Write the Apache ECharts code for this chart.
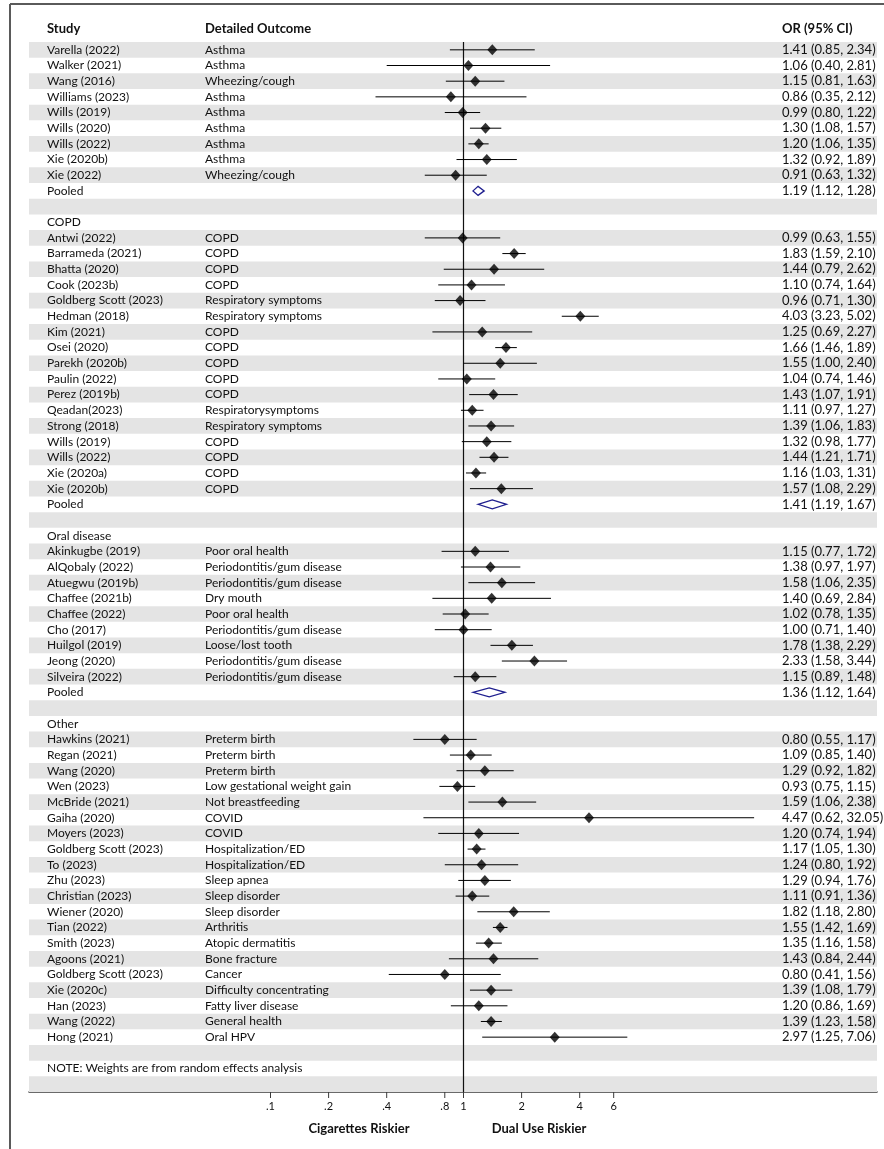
<!DOCTYPE html>
<html>
<head>
<meta charset="utf-8">
<script src="https://cdn.jsdelivr.net/npm/echarts@6/dist/echarts.min.js"></script>
<style>
  html, body { margin: 0; padding: 0; background: #ffffff; }
  #chart { width: 884px; height: 1149px; }
</style>
</head>
<body>
<div id="chart"></div>
<script>
// ---- Asthma ----
const asthmaStudy = ['Varella (2022)', 'Walker (2021)', 'Wang (2016)', 'Williams (2023)', 'Wills (2019)',
  'Wills (2020)', 'Wills (2022)', 'Xie (2020b)', 'Xie (2022)'];
const asthmaOutcome = ['Asthma', 'Asthma', 'Wheezing/cough', 'Asthma', 'Asthma', 'Asthma', 'Asthma', 'Asthma', 'Wheezing/cough'];
const asthmaOR = [1.41, 1.06, 1.15, 0.86, 0.99, 1.30, 1.20, 1.32, 0.91];
const asthmaLow = [0.85, 0.40, 0.81, 0.35, 0.80, 1.08, 1.06, 0.92, 0.63];
const asthmaHigh = [2.34, 2.81, 1.63, 2.12, 1.22, 1.57, 1.35, 1.89, 1.32];
const asthmaPooled = [1.19, 1.12, 1.28];

// ---- COPD ----
const copdStudy = ['Antwi (2022)', 'Barrameda (2021)', 'Bhatta (2020)', 'Cook (2023b)', 'Goldberg Scott (2023)',
  'Hedman (2018)', 'Kim (2021)', 'Osei (2020)', 'Parekh (2020b)', 'Paulin (2022)', 'Perez (2019b)',
  'Qeadan(2023)', 'Strong (2018)', 'Wills (2019)', 'Wills (2022)', 'Xie (2020a)', 'Xie (2020b)'];
const copdOutcome = ['COPD', 'COPD', 'COPD', 'COPD', 'Respiratory symptoms', 'Respiratory symptoms', 'COPD', 'COPD',
  'COPD', 'COPD', 'COPD', 'Respiratorysymptoms', 'Respiratory symptoms', 'COPD', 'COPD', 'COPD', 'COPD'];
const copdOR = [0.99, 1.83, 1.44, 1.10, 0.96, 4.03, 1.25, 1.66, 1.55, 1.04, 1.43, 1.11, 1.39, 1.32, 1.44, 1.16, 1.57];
const copdLow = [0.63, 1.59, 0.79, 0.74, 0.71, 3.23, 0.69, 1.46, 1.00, 0.74, 1.07, 0.97, 1.06, 0.98, 1.21, 1.03, 1.08];
const copdHigh = [1.55, 2.10, 2.62, 1.64, 1.30, 5.02, 2.27, 1.89, 2.40, 1.46, 1.91, 1.27, 1.83, 1.77, 1.71, 1.31, 2.29];
const copdPooled = [1.41, 1.19, 1.67];

// ---- Oral disease ----
const oralStudy = ['Akinkugbe (2019)', 'AlQobaly (2022)', 'Atuegwu (2019b)', 'Chaffee (2021b)', 'Chaffee (2022)',
  'Cho (2017)', 'Huilgol (2019)', 'Jeong (2020)', 'Silveira (2022)'];
const oralOutcome = ['Poor oral health', 'Periodontitis/gum disease', 'Periodontitis/gum disease', 'Dry mouth',
  'Poor oral health', 'Periodontitis/gum disease', 'Loose/lost tooth', 'Periodontitis/gum disease', 'Periodontitis/gum disease'];
const oralOR = [1.15, 1.38, 1.58, 1.40, 1.02, 1.00, 1.78, 2.33, 1.15];
const oralLow = [0.77, 0.97, 1.06, 0.69, 0.78, 0.71, 1.38, 1.58, 0.89];
const oralHigh = [1.72, 1.97, 2.35, 2.84, 1.35, 1.40, 2.29, 3.44, 1.48];
const oralPooled = [1.36, 1.12, 1.64];

// ---- Other outcomes ----
const otherStudy = ['Hawkins (2021)', 'Regan (2021)', 'Wang (2020)', 'Wen (2023)', 'McBride (2021)', 'Gaiha (2020)',
  'Moyers (2023)', 'Goldberg Scott (2023)', 'To (2023)', 'Zhu (2023)', 'Christian (2023)', 'Wiener (2020)',
  'Tian (2022)', 'Smith (2023)', 'Agoons (2021)', 'Goldberg Scott (2023)', 'Xie (2020c)', 'Han (2023)',
  'Wang (2022)', 'Hong (2021)'];
const otherOutcome = ['Preterm birth', 'Preterm birth', 'Preterm birth', 'Low gestational weight gain',
  'Not breastfeeding', 'COVID', 'COVID', 'Hospitalization/ED', 'Hospitalization/ED', 'Sleep apnea',
  'Sleep disorder', 'Sleep disorder', 'Arthritis', 'Atopic dermatitis', 'Bone fracture', 'Cancer',
  'Difficulty concentrating', 'Fatty liver disease', 'General health', 'Oral HPV'];
const otherOR = [0.80, 1.09, 1.29, 0.93, 1.59, 4.47, 1.20, 1.17, 1.24, 1.29, 1.11, 1.82, 1.55, 1.35, 1.43, 0.80, 1.39, 1.20, 1.39, 2.97];
const otherLow = [0.55, 0.85, 0.92, 0.75, 1.06, 0.62, 0.74, 1.05, 0.80, 0.94, 0.91, 1.18, 1.42, 1.16, 0.84, 0.41, 1.08, 0.86, 1.23, 1.25];
const otherHigh = [1.17, 1.40, 1.82, 1.15, 2.38, 32.05, 1.94, 1.30, 1.92, 1.76, 1.36, 2.80, 1.69, 1.58, 2.44, 1.56, 1.79, 1.69, 1.58, 7.06];

// ---- Axis ticks ----
const tickValues = [0.1, 0.2, 0.4, 0.8, 1, 2, 4, 6];
const tickLabels = ['.1', '.2', '.4', '.8', '1', '2', '4', '6'];

const noteText = 'NOTE: Weights are from random effects analysis';

// ---- Build table rows ----
const rows = [];
function addSection(header, study, outcome, or, low, high, pooled) {
  if (header) rows.push({ type: 'header', text: header });
  study.forEach((s, i) => rows.push({ type: 'study', study: s, outcome: outcome[i], or: or[i], low: low[i], high: high[i] }));
  if (pooled) rows.push({ type: 'pooled', or: pooled[0], low: pooled[1], high: pooled[2] });
  rows.push({ type: 'blank' });
}
addSection(null, asthmaStudy, asthmaOutcome, asthmaOR, asthmaLow, asthmaHigh, asthmaPooled);
addSection('COPD', copdStudy, copdOutcome, copdOR, copdLow, copdHigh, copdPooled);
addSection('Oral disease', oralStudy, oralOutcome, oralOR, oralLow, oralHigh, oralPooled);
addSection('Other', otherStudy, otherOutcome, otherOR, otherLow, otherHigh, null);
rows.push({ type: 'note', text: noteText });
rows.push({ type: 'blank' });
const nRows = rows.length;

const fmt = v => v.toFixed(2);
const ciText = r => fmt(r.or) + ' (' + fmt(r.low) + ', ' + fmt(r.high) + ')';

const FONT = 'Lato, "Open Sans", sans-serif';
const TEXT_COLOR = '#111111';
const COL_STUDY = 47, COL_OUTCOME = 205, COL_CI = 782;

// pixel layout of the log axis: value 1 sits at x = 463.5, 193 px per decade
const PX_PER_DECADE = 193, X_ONE = 463.5, GRID_L = 29, GRID_R = 877;
const xMin = Math.pow(10, (GRID_L - X_ONE) / PX_PER_DECADE);
const xMax = Math.pow(10, (GRID_R - X_ONE) / PX_PER_DECADE);

const stripeData = rows.map((r, i) => [1, i]).filter((d, i) => i % 2 === 0);
const ciData = [], markerData = [], pooledData = [];
rows.forEach((r, i) => {
  if (r.type === 'study') {
    ciData.push([r.low, r.high, i + 0.5]);
    markerData.push([r.or, i + 0.5]);
  } else if (r.type === 'pooled') {
    pooledData.push([r.low, r.or, r.high, i + 0.5]);
  }
});

const chart = echarts.init(document.getElementById('chart'), null, { renderer: 'canvas' });

chart.setOption({
  animation: false,
  backgroundColor: '#ffffff',
  grid: { left: GRID_L, right: 884 - GRID_R, top: 42, bottom: 57 },
  xAxis: {
    type: 'log', logBase: 10, min: xMin, max: xMax, position: 'bottom',
    axisLine: { show: true, onZero: false, lineStyle: { color: '#3a3a3a', width: 1.5 } },
    axisTick: { show: false }, axisLabel: { show: false }, splitLine: { show: false }
  },
  yAxis: {
    type: 'value', min: 0, max: nRows, inverse: true, show: false
  },
  graphic: [
    // frame
    { type: 'line', shape: { x1: 10, y1: 4, x2: 884, y2: 4 }, style: { stroke: '#5a5a5a', lineWidth: 2 }, z: 10 },
    { type: 'line', shape: { x1: 10, y1: 4, x2: 10, y2: 1149 }, style: { stroke: '#5a5a5a', lineWidth: 2 }, z: 10 },
    // column headers
    { type: 'text', x: COL_STUDY, y: 29, style: { text: 'Study', font: 'bold 13px ' + FONT, fill: TEXT_COLOR, textVerticalAlign: 'middle' } },
    { type: 'text', x: COL_OUTCOME, y: 29, style: { text: 'Detailed Outcome', font: 'bold 13px ' + FONT, fill: TEXT_COLOR, textVerticalAlign: 'middle' } },
    { type: 'text', x: COL_CI, y: 29, style: { text: 'OR (95% CI)', font: 'bold 13px ' + FONT, fill: TEXT_COLOR, textVerticalAlign: 'middle' } },
    // axis direction captions
    { type: 'text', x: 359, y: 1129, style: { text: 'Cigarettes Riskier', font: 'bold 13px ' + FONT, fill: TEXT_COLOR, textAlign: 'center', textVerticalAlign: 'middle' } },
    { type: 'text', x: 539, y: 1129, style: { text: 'Dual Use Riskier', font: 'bold 13px ' + FONT, fill: TEXT_COLOR, textAlign: 'center', textVerticalAlign: 'middle' } }
  ],
  series: [
    {
      // alternating grey row bands
      type: 'custom', name: 'stripes', z: 1, silent: true,
      data: stripeData, encode: { x: 0, y: 1 },
      renderItem: (params, api) => {
        const cs = params.coordSys;
        const y0 = api.coord([1, api.value(1)])[1];
        const y1 = api.coord([1, api.value(1) + 1])[1];
        return { type: 'rect', shape: { x: cs.x, y: y0, width: cs.width, height: y1 - y0 }, style: { fill: '#e4e4e4' } };
      }
    },
    {
      // reference line at OR = 1
      type: 'line', name: 'null', z: 3, silent: true, symbol: 'none',
      data: [[1, 0], [1, nRows]],
      lineStyle: { color: '#111', width: 1.2 }
    },
    {
      // confidence intervals
      type: 'custom', name: 'ci', z: 4, silent: true,
      data: ciData, encode: { x: [0, 1], y: 2 },
      renderItem: (params, api) => {
        const a = api.coord([api.value(0), api.value(2)]);
        const b = api.coord([api.value(1), api.value(2)]);
        return { type: 'line', shape: { x1: a[0], y1: a[1], x2: b[0], y2: b[1] }, style: { stroke: '#000', lineWidth: 1 } };
      }
    },
    {
      // study point estimates
      type: 'scatter', name: 'or', z: 5, silent: true,
      symbol: 'diamond', symbolSize: [10, 11],
      itemStyle: { color: '#000' },
      data: markerData
    },
    {
      // pooled estimates
      type: 'custom', name: 'pooled', z: 5, silent: true,
      data: pooledData, encode: { x: [0, 1, 2], y: 3 },
      renderItem: (params, api) => {
        const y = api.value(3);
        const l = api.coord([api.value(0), y]);
        const m = api.coord([api.value(1), y]);
        const r = api.coord([api.value(2), y]);
        const h = 4.5;
        return {
          type: 'polygon',
          shape: { points: [[l[0], l[1]], [m[0], m[1] - h], [r[0], r[1]], [m[0], m[1] + h]] },
          style: { fill: 'none', stroke: '#1f1f8f', lineWidth: 1.3 }
        };
      }
    },
    {
      // table text columns
      type: 'custom', name: 'text', z: 6, silent: true,
      data: rows.map((r, i) => [1, i + 0.5, i]), encode: { x: 0, y: 1 },
      renderItem: (params, api) => {
        const r = rows[api.value(2)];
        const y = api.coord([1, api.value(1)])[1];
        const base = { font: '12px ' + FONT, fill: TEXT_COLOR, textVerticalAlign: 'middle' };
        const num = { font: '13px ' + FONT, fill: TEXT_COLOR, textVerticalAlign: 'middle' };
        const children = [];
        if (r.type === 'study') {
          children.push({ type: 'text', x: COL_STUDY, y: y, style: Object.assign({ text: r.study }, base) });
          children.push({ type: 'text', x: COL_OUTCOME, y: y, style: Object.assign({ text: r.outcome }, base) });
          children.push({ type: 'text', x: COL_CI, y: y, style: Object.assign({ text: ciText(r) }, num) });
        } else if (r.type === 'pooled') {
          children.push({ type: 'text', x: COL_STUDY, y: y, style: Object.assign({ text: 'Pooled' }, base) });
          children.push({ type: 'text', x: COL_CI, y: y, style: Object.assign({ text: ciText(r) }, num) });
        } else if (r.type === 'header' || r.type === 'note') {
          children.push({ type: 'text', x: COL_STUDY, y: y, style: Object.assign({ text: r.text }, base) });
        }
        return { type: 'group', children: children };
      }
    },
    {
      // x-axis ticks and labels
      type: 'custom', name: 'ticks', z: 6, silent: true,
      data: tickValues.map((v, i) => [v, nRows, i]), encode: { x: 0, y: 1 },
      renderItem: (params, api) => {
        const p = api.coord([api.value(0), api.value(1)]);
        return {
          type: 'group',
          children: [
            { type: 'line', shape: { x1: p[0], y1: p[1], x2: p[0], y2: p[1] + 6 }, style: { stroke: '#3a3a3a', lineWidth: 1 } },
            { type: 'text', x: p[0], y: p[1] + 14, style: { text: tickLabels[api.value(2)], font: '11px ' + FONT, fill: TEXT_COLOR, textAlign: 'center', textVerticalAlign: 'middle' } }
          ]
        };
      }
    }
  ]
});
</script>
</body>
</html>
